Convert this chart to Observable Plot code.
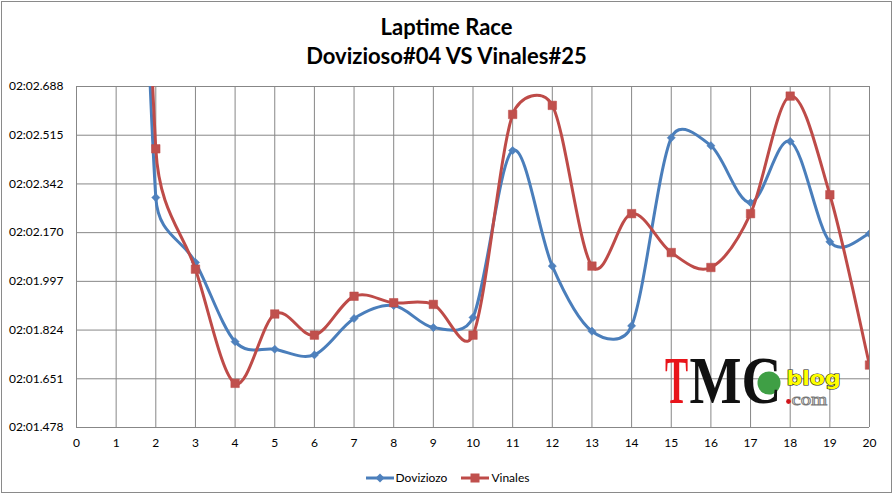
<!DOCTYPE html>
<html>
<head>
<meta charset="utf-8">
<script src="https://cdn.jsdelivr.net/npm/d3@7"></script>
<script src="https://cdn.jsdelivr.net/npm/@observablehq/plot@0.6"></script>
<style>
  body { margin: 0; background: #fff; }
  #wrap { position: relative; width: 893px; height: 495px; overflow: hidden; background: #fff;
          font-family: Lato, "Open Sans", sans-serif; color: #000; }
  #border { position: absolute; left: 1px; top: 1px; width: 891px; height: 492px; box-sizing: border-box;
            border: 1px solid #8a8a8a; pointer-events: none; }
  #title { position: relative; height: 72px; }
  #title .t { position: absolute; left: 0; width: 893px; text-align: center; font-weight: bold;
              font-size: 22px; line-height: 24px; }
  #chart svg { display: block; }
  #legend { position: relative; height: 35px; display: flex; justify-content: center; align-items: center;
            font-size: 12px; padding-left: 2px; box-sizing: border-box; }
  #legend .item { display: flex; align-items: center; margin: 0 7px; }
  #legend svg { margin-right: 2px; }
  #logo { position: absolute; left: 650px; top: 340px; pointer-events: none; }
</style>
</head>
<body>
<div id="wrap">
  <div id="title">
    <div class="t" style="top:15px">Laptime Race</div>
    <div class="t" style="top:44px">Dovizioso#04 VS Vinales#25</div>
  </div>
  <div id="chart"></div>
  <div id="legend"></div>
  <svg id="logo" width="200" height="90" viewBox="0 0 200 90">
    <circle cx="119" cy="43" r="11.5" fill="#3f9f45"></circle>
    <text transform="translate(15,63) scale(0.51,1)" font-family="Liberation Serif" font-weight="bold"
          font-size="68" fill="#e8141a">T</text>
    <text transform="translate(39.5,63) scale(0.81,1)" font-family="Liberation Serif" font-weight="bold"
          font-size="68" fill="#111">MC</text>
    <text transform="translate(136.5,44.5) scale(1.1,1)" font-family="DejaVu Sans" font-weight="bold" font-size="20"
          fill="#ffff00" stroke="#222" stroke-width="1.2" paint-order="stroke">blog</text>
    <circle cx="138.5" cy="61.5" r="2.4" fill="#d0141a"></circle>
    <text transform="translate(141.5,64.5) scale(1.3,1)" font-family="Liberation Serif" font-size="16"
          fill="#fff" stroke="#777" stroke-width="0.8">com</text>
  </svg>
  <div id="border"></div>
</div>
<script>
// ---- data ----
const laps = [1, 2, 3, 4, 5, 6, 7, 8, 9, 10, 11, 12, 13, 14, 15, 16, 17, 18, 19, 20];
// lap times in seconds (02:02.294 -> 122.294); lap 1 lies above the visible range
const dovizioso = [126.40, 122.294, 122.064, 121.783, 121.756, 121.736, 121.865, 121.911, 121.833, 121.869,
                   122.461, 122.051, 121.820, 121.839, 122.506, 122.478, 122.276, 122.493, 122.137, 122.166];
const vinales   = [126.90, 122.467, 122.040, 121.635, 121.881, 121.806, 121.944, 121.921, 121.915, 121.806,
                   122.589, 122.621, 122.051, 122.237, 122.099, 122.046, 122.237, 122.654, 122.304, 121.700];
const seriesNames = ["Doviziozo", "Vinales"];
const xTicks = [0, 1, 2, 3, 4, 5, 6, 7, 8, 9, 10, 11, 12, 13, 14, 15, 16, 17, 18, 19, 20];
const yTickValues = [121.4784, 121.6512, 121.8240, 121.9968, 122.1696, 122.3424, 122.5152, 122.6880];
const yTickLabels = ["02:01.478", "02:01.651", "02:01.824", "02:01.997", "02:02.170", "02:02.342", "02:02.515", "02:02.688"];

const lineColors = ["#4a7ebb", "#be4b48"];
const markColors = ["#4f81bd", "#c0504d"];

const doviRows = laps.map((lap, i) => ({ lap, time: dovizioso[i], series: seriesNames[0] }));
const vinRows  = laps.map((lap, i) => ({ lap, time: vinales[i],  series: seriesNames[1] }));

// Spreadsheet-style smoothed line: Bezier segments with 1/6 tangents, clamped to half the segment length
function SmoothCurve(context) { this._context = context; }
SmoothCurve.prototype = {
  areaStart() {}, areaEnd() {},
  lineStart() { this._pts = []; },
  point(x, y) { this._pts.push([+x, +y]); },
  lineEnd() {
    const p = this._pts, n = p.length, c = this._context;
    if (!n) return;
    c.moveTo(p[0][0], p[0][1]);
    for (let i = 0; i < n - 1; i++) {
      const p0 = p[Math.max(0, i - 1)], p1 = p[i], p2 = p[i + 1], p3 = p[Math.min(n - 1, i + 2)];
      const half = Math.hypot(p2[0] - p1[0], p2[1] - p1[1]) / 2;
      let ax = (p2[0] - p0[0]) / 6, ay = (p2[1] - p0[1]) / 6;
      let bx = (p3[0] - p1[0]) / 6, by = (p3[1] - p1[1]) / 6;
      const la = Math.hypot(ax, ay), lb = Math.hypot(bx, by);
      if (la > half) { const s = half / la; ax *= s; ay *= s; }
      if (lb > half) { const s = half / lb; bx *= s; by *= s; }
      c.bezierCurveTo(p1[0] + ax, p1[1] + ay, p2[0] - bx, p2[1] - by, p2[0], p2[1]);
    }
  }
};
const smooth = context => new SmoothCurve(context);

const chart = Plot.plot({
  width: 893,
  height: 388,
  marginLeft: 76,
  marginRight: 24,
  marginTop: 14,
  marginBottom: 33,
  style: { fontFamily: 'Lato, "Open Sans", sans-serif', fontSize: "12px", color: "#000", background: "transparent", overflow: "visible" },
  x: { domain: [0, 20], ticks: xTicks, tickSize: 0, tickPadding: 11, label: null, tickFormat: d => String(d) },
  y: { domain: [yTickValues[0], yTickValues[yTickValues.length - 1]], ticks: yTickValues, tickSize: 0, tickPadding: 13,
       label: null, tickFormat: d => yTickLabels[yTickValues.indexOf(d)] },
  marks: [
    Plot.gridX(xTicks, { stroke: "#878787", strokeOpacity: 1 }),
    Plot.gridY(yTickValues, { stroke: "#878787", strokeOpacity: 1 }),
    Plot.line(doviRows, { x: "lap", y: "time", stroke: lineColors[0], strokeWidth: 3, curve: smooth, clip: true }),
    Plot.dot(doviRows, { x: "lap", y: "time", symbol: "diamond2", r: 3.7, fill: markColors[0], stroke: lineColors[0], strokeWidth: 0.5, clip: true }),
    Plot.line(vinRows, { x: "lap", y: "time", stroke: lineColors[1], strokeWidth: 3, curve: smooth, clip: true }),
    Plot.dot(vinRows, { x: "lap", y: "time", symbol: "square", r: 4.8, fill: markColors[1], stroke: lineColors[1], strokeWidth: 0.5, clip: true })
  ]
});
document.getElementById("chart").appendChild(chart);

// ---- legend ----
const legend = d3.select("#legend");
const symbols = ["diamond", "square"];
seriesNames.forEach((name, i) => {
  const item = legend.append("div").attr("class", "item");
  const s = item.append("svg").attr("width", 28).attr("height", 12);
  s.append("line").attr("x1", 0).attr("x2", 28).attr("y1", 6).attr("y2", 6)
    .attr("stroke", lineColors[i]).attr("stroke-width", 3);
  if (symbols[i] === "diamond") {
    s.append("path").attr("d", "M14,1.5L18.5,6L14,10.5L9.5,6Z").attr("fill", markColors[i]);
  } else {
    s.append("rect").attr("x", 9.5).attr("y", 1.5).attr("width", 9).attr("height", 9).attr("fill", markColors[i]);
  }
  item.append("span").text(name);
});
</script>
</body>
</html>
